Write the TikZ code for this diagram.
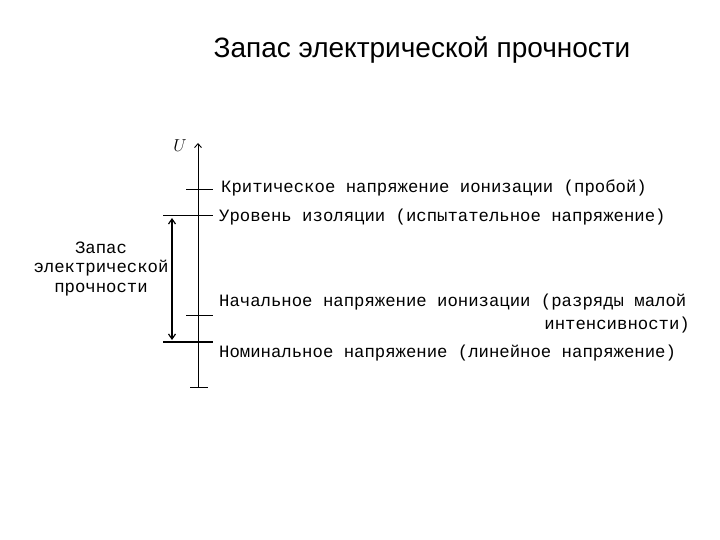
\documentclass[tikz,border=0pt]{standalone}
\usepackage{fontspec}
\setmainfont{Liberation Sans}
\newfontfamily\monof{Liberation Mono}
\usetikzlibrary{arrows.meta}
\begin{document}
\begin{tikzpicture}[x=1pt,y=-1pt,
  lbl/.style={font=\monof\fontsize{17.3}{19}\selectfont,inner sep=0pt,anchor=west},
  tk/.style={line width=0.9pt}]
\useasboundingbox (0,0) rectangle (720,540);
\node[font=\fontsize{28}{32}\selectfont] (title) at (422,50) {Запас электрической прочности};
\coordinate (top) at (198,143);
\coordinate (bot) at (198,387);
\draw[tk,-{Straight Barb[length=4pt,width=7pt]}] (bot) -- (top);
\node[font=\fontsize{17}{18}\itshape\selectfont,inner sep=0pt] (U) at (180,146) {$U$};
\draw[tk] (190,387) -- (208,387);
\draw[tk] (186,189) coordinate (k1) -- (213,189) coordinate (k2);
\draw[tk] (163,215) coordinate (u1) -- (213,215) coordinate (u2);
\draw[tk] (186,315) coordinate (n1) -- (213,315) coordinate (n2);
\draw[line width=1.6pt] (163,342) coordinate (m1) -- (213,342) coordinate (m2);
\coordinate (a1) at (172,218);
\coordinate (a2) at (172,340);
\draw[line width=1.2pt,{Straight Barb[length=5pt,width=7pt]}-{Straight Barb[length=5pt,width=7pt]}] (a1) -- (a2);
\node[lbl] (crit) at (221,188) {Критическое напряжение ионизации (пробой)};
\node[lbl] (lev) at (219,217) {Уровень изоляции (испытательное напряжение)};
\node[lbl] (init) at (219,302) {Начальное напряжение ионизации (разряды малой};
\node[lbl,anchor=east] (init2) at (690,325) {интенсивности)};
\node[lbl] (nom) at (219,353) {Номинальное напряжение (линейное напряжение)};
\node[font=\monof\fontsize{17.3}{19.5}\selectfont,align=center,inner sep=0pt] (res) at (101,269) {Запас\\электрической\\прочности};
\end{tikzpicture}
\end{document}
